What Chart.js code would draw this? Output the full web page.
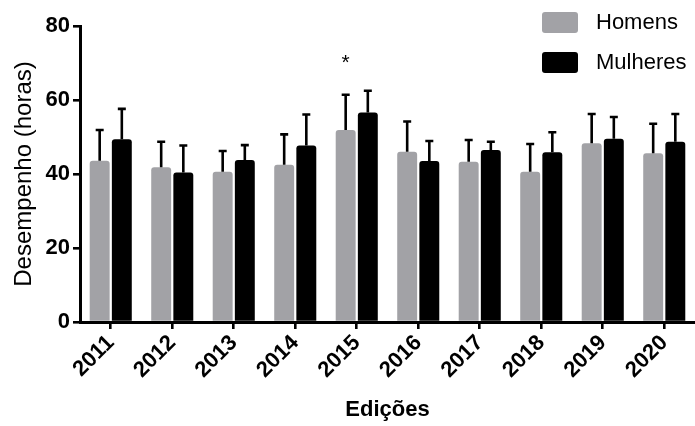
<!DOCTYPE html>
<html><head><meta charset="utf-8">
<script src="https://cdn.jsdelivr.net/npm/chart.js@4.4.0/dist/chart.umd.min.js"></script>
<style>html,body{margin:0;padding:0;background:#fff}</style>
</head><body>
<canvas id="c" width="695" height="426"></canvas>
<script>
const categories = ['2011','2012','2013','2014','2015','2016','2017','2018','2019','2020'];
const seriesNames = ['Homens','Mulheres'];
const homens    = [43.6, 41.8, 40.6, 42.5, 51.9, 46.0, 43.3, 40.6, 48.3, 45.6];
const homensSD  = [8.3, 6.9, 5.6, 8.2, 9.5, 8.2, 5.9, 7.5, 7.9, 8.0];
const mulheres   = [49.4, 40.4, 43.8, 47.7, 56.6, 43.5, 46.5, 45.9, 49.5, 48.7];
const mulheresSD = [8.2, 7.3, 4.0, 8.4, 5.9, 5.4, 2.2, 5.4, 5.9, 7.5];
const homensSig   = ['', '', '', '', '*', '', '', '', '', ''];
const mulheresSig = ['', '', '', '', '', '', '', '', '', ''];
const yTicks = [0, 20, 40, 60, 80];
const colors = ['#a2a2a6', '#000000'];

const FONT = '"Liberation Sans", Arial, Helvetica, sans-serif';
Chart.defaults.font.family = FONT;
Chart.defaults.color = '#000';

const errData = [homensSD, mulheresSD];
const sigData = [homensSig, mulheresSig];

const errorBars = {
  id: 'errorBars',
  afterDatasetsDraw(chart) {
    const ctx = chart.ctx, y = chart.scales.y;
    ctx.save();
    ctx.strokeStyle = '#000';
    ctx.lineWidth = 2.6;
    chart.data.datasets.forEach((ds, i) => {
      const meta = chart.getDatasetMeta(i);
      meta.data.forEach((bar, j) => {
        const v = ds.data[j], e = errData[i][j];
        const y0 = y.getPixelForValue(v), y1 = y.getPixelForValue(v + e);
        ctx.beginPath();
        ctx.moveTo(bar.x, y0); ctx.lineTo(bar.x, y1);
        ctx.moveTo(bar.x - 4, y1); ctx.lineTo(bar.x + 4, y1);
        ctx.stroke();
        const s = sigData[i][j];
        if (s) {
          ctx.fillStyle = '#000';
          ctx.font = '21px ' + FONT;
          ctx.textAlign = 'center';
          ctx.textBaseline = 'top';
          ctx.fillText(s, bar.x, y1 - 42);
        }
      });
    });
    ctx.restore();
  }
};

const customLegend = {
  id: 'customLegend',
  afterDraw(chart) {
    const ctx = chart.ctx;
    ctx.save();
    chart.data.datasets.forEach((ds, i) => {
      const bx = 542, by = 12 + i * 40;
      ctx.fillStyle = ds.backgroundColor;
      ctx.beginPath();
      ctx.roundRect(bx, by, 36, 21, 3);
      ctx.fill();
      ctx.fillStyle = '#000';
      ctx.font = '22px ' + FONT;
      ctx.textAlign = 'left';
      ctx.textBaseline = 'middle';
      ctx.fillText(ds.label, 596, by + 11);
    });
    ctx.restore();
  }
};

new Chart(document.getElementById('c'), {
  type: 'bar',
  data: {
    labels: categories,
    datasets: [
      { label: seriesNames[0], data: homens, backgroundColor: colors[0],
        borderRadius: {topLeft: 3, topRight: 3}, borderSkipped: 'start' },
      { label: seriesNames[1], data: mulheres, backgroundColor: colors[1],
        borderRadius: {topLeft: 3, topRight: 3}, borderSkipped: 'start' }
    ]
  },
  options: {
    responsive: false,
    animation: false,
    devicePixelRatio: 1,
    layout: { padding: { top: 26, right: 0, left: 0, bottom: 0 } },
    datasets: { bar: { categoryPercentage: 0.72, barPercentage: 0.9 } },
    plugins: { legend: { display: false }, tooltip: { enabled: false } },
    scales: {
      x: {
        offset: true,
        grid: { offset: false, drawOnChartArea: false, drawTicks: true, tickLength: 7, color: '#000', lineWidth: 2.6 },
        border: { display: true, color: '#000', width: 3 },
        ticks: { autoSkip: false, minRotation: 45, maxRotation: 45, padding: 1,
                 font: { size: 22, weight: 'bold' }, color: '#000' },
        title: { display: true, text: 'Edições', font: { size: 22, weight: 'bold' }, color: '#000',
                 padding: { top: 4, bottom: 3 } },
        afterFit(s) { s.height = 104; }
      },
      y: {
        min: 0, max: 80,
        afterBuildTicks(s) { s.ticks = yTicks.map(v => ({ value: v })); },
        grid: { drawOnChartArea: false, drawTicks: true, tickLength: 7, color: '#000', lineWidth: 2.6 },
        border: { display: true, color: '#000', width: 3 },
        ticks: { padding: 3, font: { size: 22, weight: 'bold' }, color: '#000' },
        title: { display: true, text: 'Desempenho (horas)', font: { size: 24 }, color: '#000',
                 padding: { top: 10, bottom: 0 } },
        afterFit(s) { s.width = 80; }
      }
    }
  },
  plugins: [errorBars, customLegend]
});
</script>
</body></html>
